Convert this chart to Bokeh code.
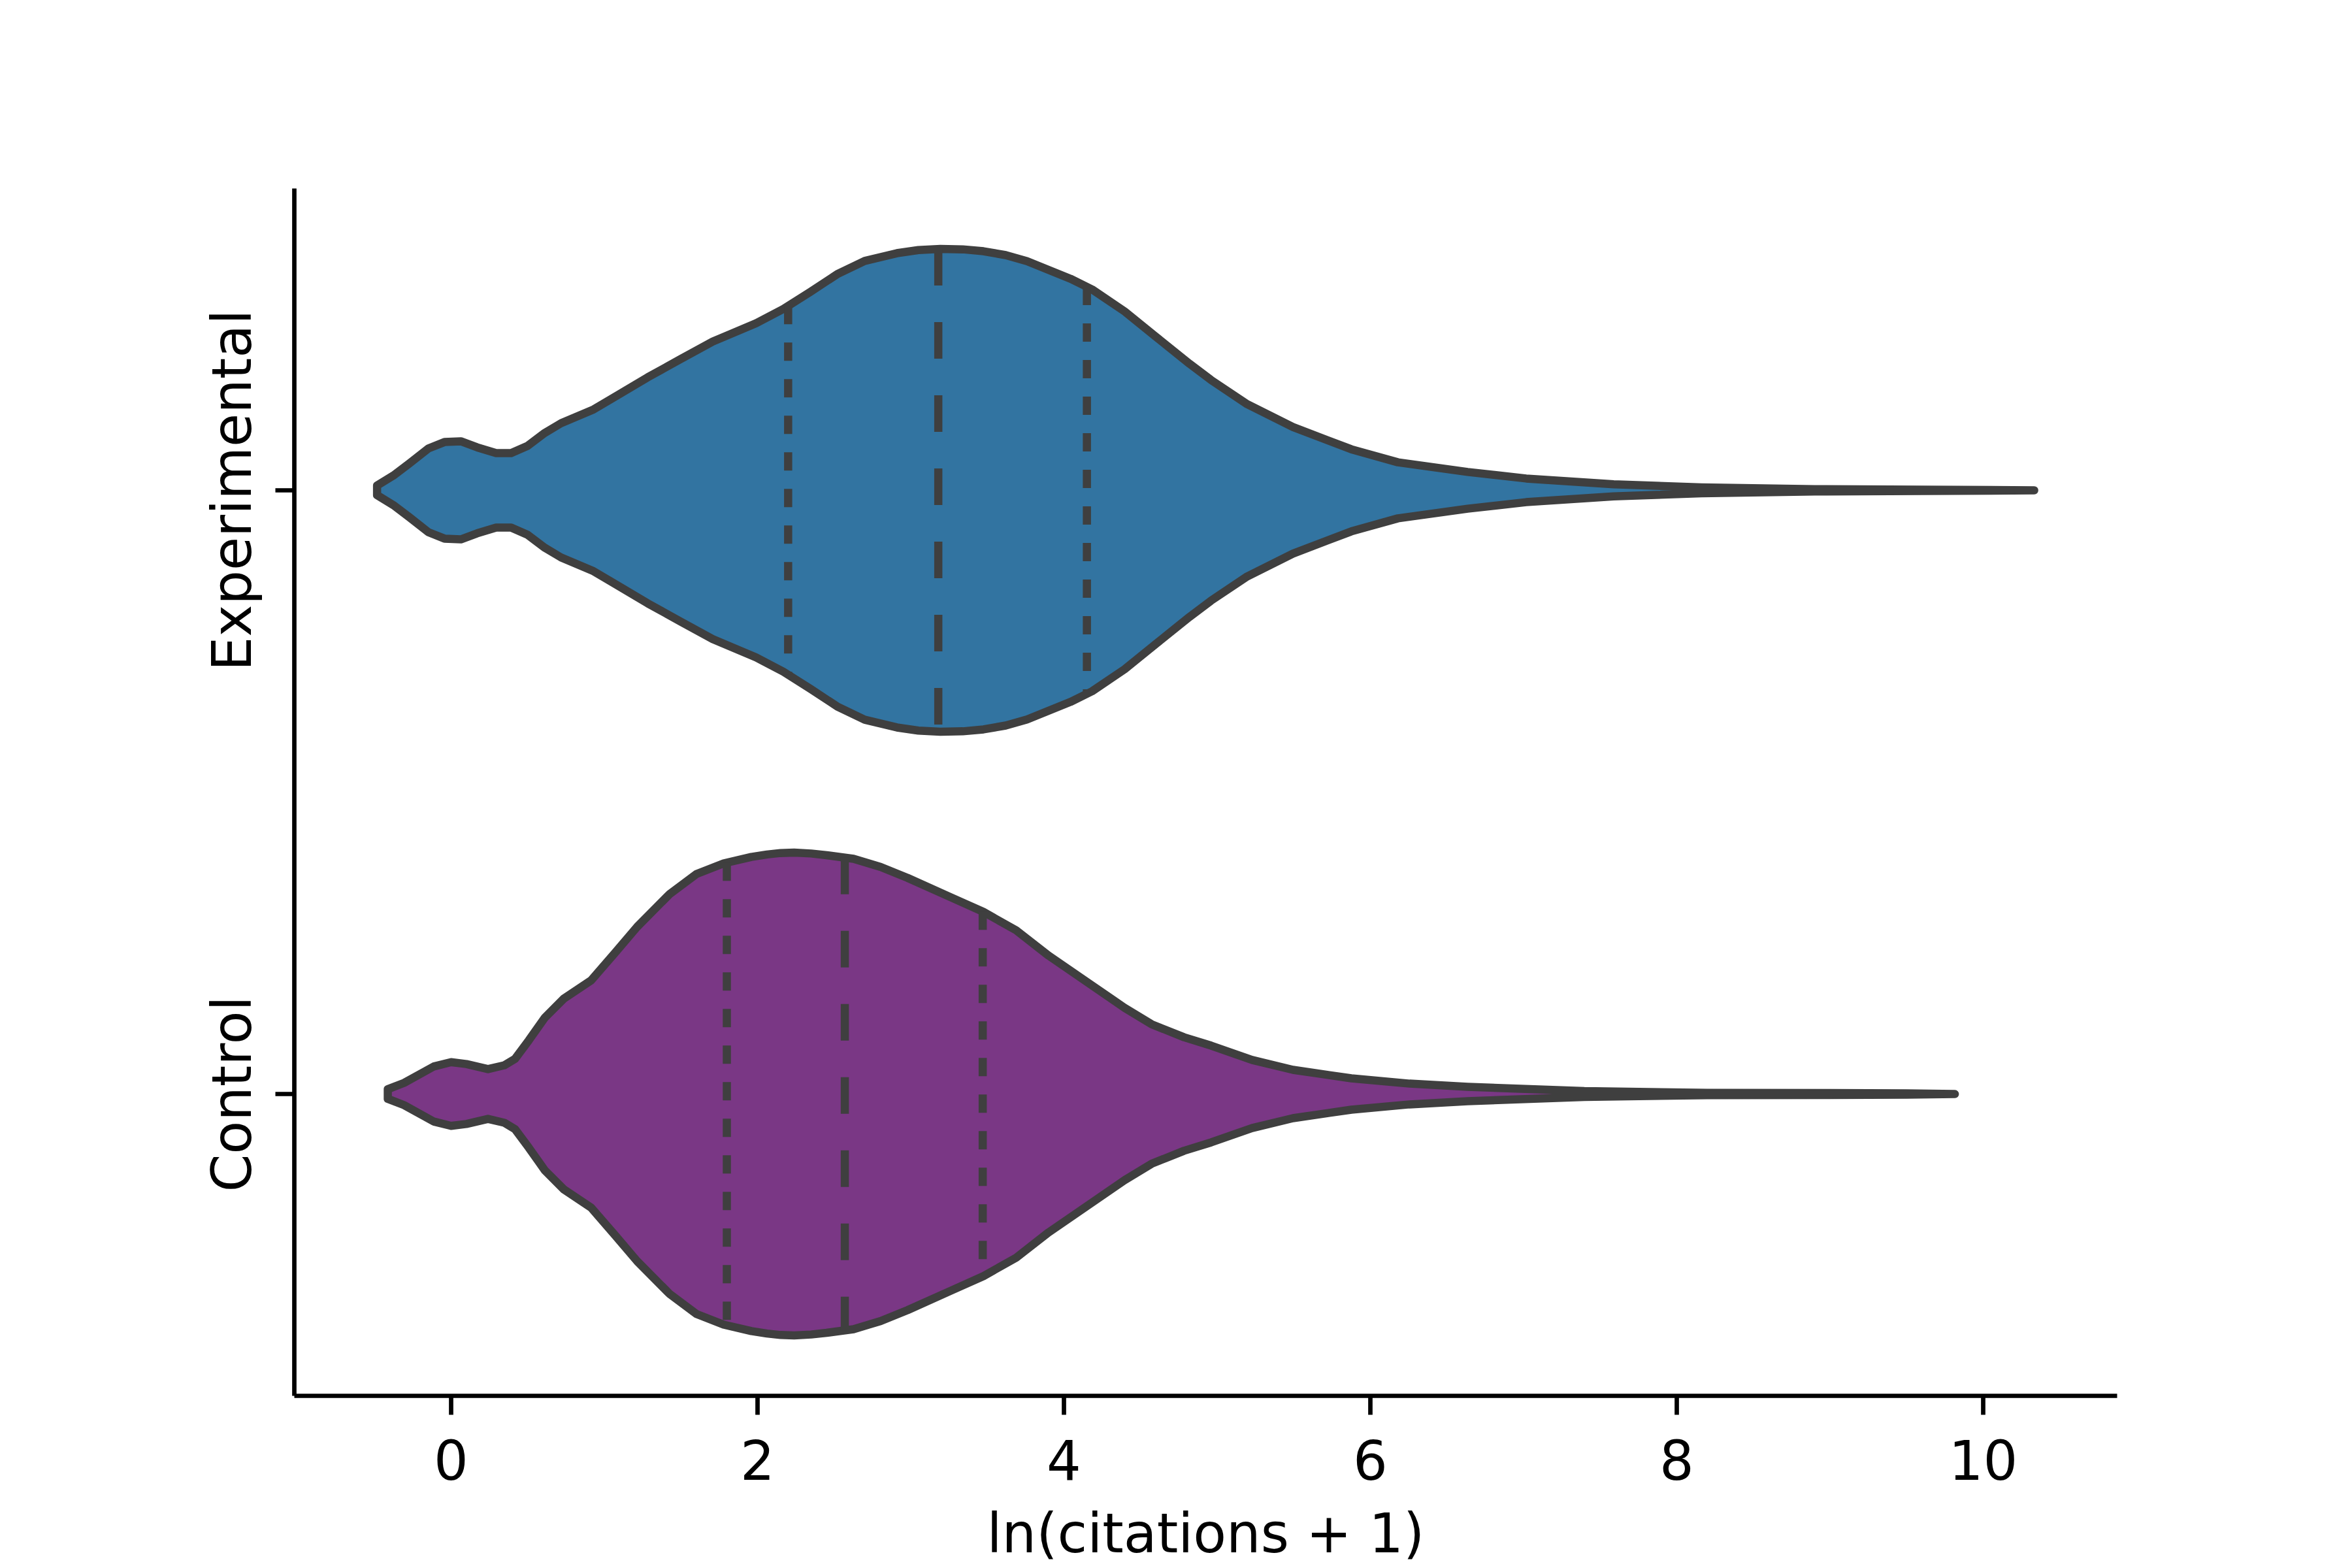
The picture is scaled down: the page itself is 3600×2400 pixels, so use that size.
import math
import numpy as np
from bokeh.plotting import figure
from bokeh.models import Range1d, FixedTicker
from bokeh.embed import file_html
from bokeh.resources import INLINE

# ---------------- data ----------------
categories = ["Control", "Experimental"]
x_label = "ln(citations + 1)"
x_ticks = [0, 2, 4, 6, 8, 10]

# KDE profile of each group (support value, density relative to the peak)
exp_support = [-0.483, -0.377, -0.273, -0.149, -0.043, 0.064, 0.170, 0.294, 0.392,
               0.499, 0.612, 0.718, 0.930, 1.053, 1.283, 1.497, 1.708, 1.991,
               2.168, 2.345, 2.520, 2.700, 2.910, 3.050, 3.194, 3.340, 3.475,
               3.620, 3.759, 4.043,
               4.184, 4.396, 4.608, 4.820, 4.960, 5.190, 5.495, 5.876, 6.180,
               6.635, 7.017, 7.588, 8.160, 8.900, 9.600, 10.333]
exp_density = [0.020, 0.061, 0.111, 0.173, 0.200, 0.203, 0.178, 0.154, 0.154,
               0.184, 0.238, 0.278, 0.335, 0.381, 0.468, 0.543, 0.616, 0.692,
               0.751, 0.822, 0.895, 0.950, 0.982, 0.995, 1.000, 0.998, 0.990,
               0.974, 0.949, 0.876,
               0.832, 0.741, 0.632, 0.524, 0.457, 0.359, 0.262, 0.170, 0.116,
               0.076, 0.049, 0.025, 0.012, 0.005, 0.003, 0.000]

ctl_support = [-0.413, -0.307, -0.113, 0.000, 0.100, 0.241, 0.347, 0.418, 0.507,
               0.612, 0.736, 0.913, 1.072, 1.214, 1.425, 1.602, 1.779, 1.960,
               2.062, 2.150, 2.239, 2.350, 2.451, 2.627, 2.804, 2.980, 3.264,
               3.475, 3.688, 3.900,
               4.148, 4.396, 4.572, 4.784, 4.962, 5.228, 5.495, 5.876, 6.256,
               6.635, 7.397, 8.200, 9.000, 9.500, 9.815]
ctl_density = [0.020, 0.046, 0.114, 0.132, 0.124, 0.103, 0.119, 0.146, 0.222,
               0.316, 0.395, 0.470, 0.586, 0.692, 0.827, 0.911, 0.955, 0.982,
               0.992, 0.998, 1.000, 0.996, 0.989, 0.974, 0.940, 0.895, 0.814,
               0.754, 0.678, 0.573,
               0.465, 0.357, 0.289, 0.235, 0.200, 0.141, 0.100, 0.065, 0.043,
               0.030, 0.012, 0.005, 0.004, 0.003, 0.000]

# quartiles: q1, median, q3
exp_quartiles = [2.20, 3.18, 4.15]
ctl_quartiles = [1.80, 2.57, 3.47]

# ---------------- styling ----------------
FONT = "DejaVu Sans"
FS = "83px"
EDGE = "#3f3f3f"
LW = 12.5
HALF_WIDTH = 0.4
colors = {"Experimental": "#3274a1", "Control": "#7a3785"}

p = figure(
    frame_width=2790, frame_height=1848,
    x_range=Range1d(-1.023, 10.874), y_range=Range1d(-0.5, 1.5),
    output_backend="svg", toolbar_location=None,
    min_border_left=450, min_border_right=360,
    min_border_top=288, min_border_bottom=200,
    background_fill_color="white", border_fill_color="white",
)
p.outline_line_color = None
p.grid.visible = False

groups = [
    ("Experimental", exp_support, exp_density, exp_quartiles),
    ("Control", ctl_support, ctl_density, ctl_quartiles),
]

for name, sup, dens, quarts in groups:
    c = categories.index(name)
    xs = np.array(sup, dtype=float)
    hw = HALF_WIDTH * np.array(dens, dtype=float)
    px = np.concatenate([xs, xs[::-1]])
    py = np.concatenate([c + hw, (c - hw)[::-1]])
    p.patch(px, py, fill_color=colors[name], line_color=EDGE,
            line_width=LW, line_join="round")
    for i, q in enumerate(quarts):
        h = float(np.interp(q, xs, hw))
        dash = "56 56" if i == 1 else "28 28"
        p.line([q, q], [c + h, c - h], line_color=EDGE, line_width=LW,
               line_dash=dash, line_cap="butt")

# x axis
xa = p.xaxis[0]
xa.ticker = FixedTicker(ticks=x_ticks)
xa.axis_label = x_label
xa.axis_label_text_font = FONT
xa.axis_label_text_font_size = FS
xa.axis_label_text_font_style = "normal"
xa.axis_label_text_color = "black"
xa.axis_label_standoff = 31
xa.major_label_standoff = 37

# y axis
ya = p.yaxis[0]
ya.ticker = FixedTicker(ticks=[0, 1])
ya.major_label_overrides = {i: n for i, n in enumerate(categories)}
ya.major_label_orientation = "vertical"
ya.major_label_standoff = 18

for ax in (xa, ya):
    ax.major_label_text_font = FONT
    ax.major_label_text_font_size = FS
    ax.major_label_text_color = "black"
    ax.axis_line_color = "black"
    ax.axis_line_width = 6.7
    ax.major_tick_line_color = "black"
    ax.major_tick_line_width = 6.7
    ax.major_tick_out = 29
    ax.major_tick_in = 0
    ax.minor_tick_line_color = None

open("out.html", "w").write(file_html(p, INLINE))
